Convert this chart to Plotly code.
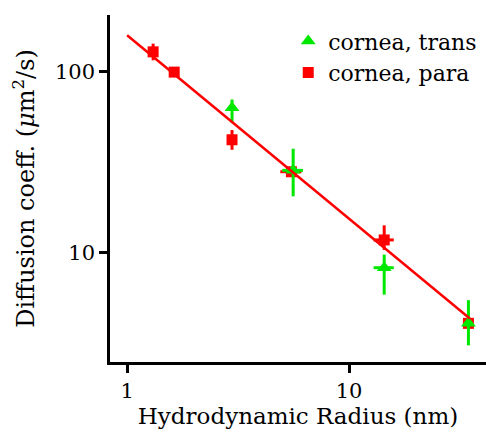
import plotly.graph_objects as go
import numpy as np

# cornea, para (red squares)
para_r = [1.31, 1.63, 2.97, 5.5, 14.4, 34.5]
para_D = [128, 99, 42, 28, 11.8, 4.1]
para_D_plus = [14, 3, 5.5, 1.5, 2.4, 0.3]
para_D_minus = [13, 3, 5.0, 1.5, 1.4, 0.3]
para_r_err = [0.04, 0.05, 0.08, 0.6, 1.5, 1.5]

# cornea, trans (green triangles)
trans_r = [2.97, 5.6, 14.4, 34.5]
trans_D = [63, 28.5, 8.3, 4.1]
trans_D_plus = [7, 9, 1.5, 1.4]
trans_D_minus = [11, 8, 2.4, 1.0]
trans_r_err = [0.05, 0.6, 1.5, 1.5]

# power-law fit D = A * r^b
fit_A = 158
fit_b = -1.01
fit_r = [1.0, 35.0]

RED = "#ff0000"
GREEN = "#00e800"
FONT = "DejaVu Serif"

fig = go.Figure()
fig.add_trace(go.Scatter(
    x=para_r, y=para_D, mode="markers", name="cornea, para",
    marker=dict(symbol="square", size=11, color=RED),
    error_y=dict(type="data", symmetric=False, array=para_D_plus, arrayminus=para_D_minus,
                 color=RED, thickness=3, width=0),
    error_x=dict(type="data", array=para_r_err, color=RED, thickness=3, width=0),
    legendrank=2,
))
fig.add_trace(go.Scatter(
    x=trans_r, y=trans_D, mode="markers", name="cornea, trans",
    marker=dict(symbol="triangle-up", size=13, color=GREEN),
    error_y=dict(type="data", symmetric=False, array=trans_D_plus, arrayminus=trans_D_minus,
                 color=GREEN, thickness=3, width=0),
    error_x=dict(type="data", array=trans_r_err, color=GREEN, thickness=3, width=0),
    legendrank=1,
))
fit_D = [fit_A * r ** fit_b for r in fit_r]
fig.add_trace(go.Scatter(
    x=fit_r, y=fit_D, mode="lines", line=dict(color=RED, width=2.5), showlegend=False,
))

axis_common = dict(
    type="log", showline=True, linecolor="black", linewidth=2.5, mirror=False,
    ticks="outside", ticklen=8, tickwidth=2.5, tickcolor="black", automargin=False,
    showgrid=False, zeroline=False, tickfont=dict(family=FONT, size=21, color="black"),
)
fig.update_xaxes(**axis_common, range=[-0.077, 1.617], tickvals=[1, 10], ticktext=["1", "10"],
                 title=dict(text="Hydrodynamic Radius (nm)", font=dict(family=FONT, size=23, color="black"), standoff=6))
fig.update_yaxes(**axis_common, range=[0.40, 2.31], tickvals=[10, 100], ticktext=["10", "100"],
                 title=dict(text="Diffusion coeff. (<i>μ</i>m<sup>2</sup>/s)", font=dict(family=FONT, size=24, color="black"), standoff=14))

fig.update_layout(
    width=486, height=436, margin=dict(l=110, r=0, t=15, b=74, autoexpand=False),
    plot_bgcolor="white", paper_bgcolor="white",
    legend=dict(x=0.99, y=0.985, xanchor="right", yanchor="top", bgcolor="rgba(0,0,0,0)",
                font=dict(family=FONT, size=22, color="black"), itemwidth=30, tracegroupgap=0),
)
fig.write_html("out.html")
